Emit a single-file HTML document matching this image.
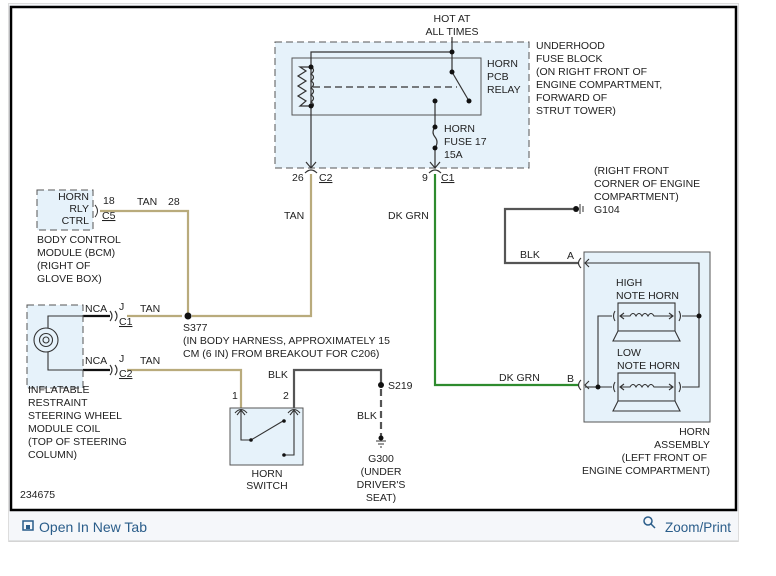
<!DOCTYPE html>
<html><head><meta charset="utf-8"><style>
body{margin:0;background:#fff;width:776px;height:576px;overflow:hidden;font-family:"Liberation Sans",Arial,sans-serif}
svg{position:absolute;left:0;top:0}
text{font-family:"Liberation Sans",Arial,sans-serif;font-size:10.5px;fill:#222}
.u{text-decoration:underline}
.f{font-family:"Liberation Sans Narrow","Liberation Sans",Arial,sans-serif;font-size:14px;fill:#2a5d8a}
</style></head><body>
<svg width="776" height="576" viewBox="0 0 776 576">
<rect x="8.5" y="3.5" width="730" height="538" fill="#f5f7fa" stroke="#ddd"/>
<rect x="11" y="7" width="725" height="503" fill="#fff" stroke="#000" stroke-width="2.5"/>
<line x1="9" y1="541" x2="738" y2="541" stroke="#ccc"/>
<!-- footer -->
<rect x="23" y="521" width="10" height="9" fill="none" stroke="#2a5d8a" stroke-width="1.5"/>
<rect x="26" y="525" width="4" height="4" fill="#2a5d8a"/>
<text x="39" y="532" class="f" textLength="108" lengthAdjust="spacingAndGlyphs">Open In New Tab</text>
<circle cx="648" cy="521" r="4" fill="none" stroke="#2a5d8a" stroke-width="1.5"/>
<line x1="651" y1="524" x2="655" y2="528" stroke="#2a5d8a" stroke-width="1.5"/>
<text x="731" y="532" text-anchor="end" class="f" textLength="66" lengthAdjust="spacingAndGlyphs">Zoom/Print</text>

<!-- fuse block -->
<rect x="275" y="42" width="254" height="126" fill="#e6f2fa" stroke="#555" stroke-dasharray="7,4"/>
<rect x="292" y="58" width="189" height="57" fill="none" stroke="#555"/>
<g stroke="#333" fill="none" stroke-width="1.2">
<line x1="452" y1="37" x2="452" y2="72"/>
<polyline points="452,52 311,52 311,168"/>
<line x1="452" y1="72" x2="469" y2="101"/>
<polyline points="311,67 300,67 306,71 298,76 306,81 298,86 306,91 298,96 306,101 300,106 311,106"/>
<path d="M311,67 q5,3 0,7 q5,3 0,7 q5,3 0,7 q5,3 0,7 q5,3 0,7 q5,3 0,6"/>
<line x1="313" y1="87" x2="457" y2="87" stroke-dasharray="7,4"/>
<line x1="435" y1="101" x2="435" y2="127"/>
<path d="M435,127 q-4,5 0,10 q4,5 0,11"/>
<line x1="435" y1="148" x2="435" y2="168"/>
<polyline points="306,162 311,168 316,162"/>
<polyline points="430,162 435,168 440,162"/>
<path d="M305,173 q6,-6 12,0"/><path d="M429,173 q6,-6 12,0"/>
</g>
<g fill="#111"><circle cx="452" cy="52" r="2.5"/><circle cx="311" cy="67" r="2.5"/><circle cx="311" cy="106" r="2.5"/><circle cx="452" cy="72" r="2.5"/><circle cx="469" cy="101" r="2.5"/><circle cx="435" cy="101" r="2.5"/><circle cx="435" cy="127" r="2.5"/><circle cx="435" cy="148" r="2.5"/></g>
<text x="452" y="22" text-anchor="middle">HOT AT</text><text x="452" y="35" text-anchor="middle">ALL TIMES</text>
<text x="487" y="67">HORN</text><text x="487" y="80">PCB</text><text x="487" y="93">RELAY</text>
<text x="444" y="132">HORN</text><text x="444" y="145">FUSE 17</text><text x="444" y="158">15A</text>
<text x="536" y="49">UNDERHOOD</text><text x="536" y="62">FUSE BLOCK</text><text x="536" y="75">(ON RIGHT FRONT OF</text><text x="536" y="88">ENGINE COMPARTMENT,</text><text x="536" y="101">FORWARD OF</text><text x="536" y="114">STRUT TOWER)</text>
<text x="292" y="181">26</text><text x="319" y="181" class="u">C2</text>
<text x="422" y="181">9</text><text x="441" y="181" class="u">C1</text>

<!-- wires -->
<g fill="none" stroke-width="2.2">
<polyline points="311,174 311,316 192,316" stroke="#b9ab7c"/>
<polyline points="100,211 188,211 188,316" stroke="#b9ab7c"/>
<line x1="127" y1="316" x2="182" y2="316" stroke="#b9ab7c"/>
<polyline points="127,370 241,370 241,408" stroke="#b9ab7c"/>
<polyline points="435,174 435,385 578,385" stroke="#2e8b2e"/>
<polyline points="294,408 294,370 381,370 381,385" stroke="#555"/>
<line x1="381" y1="389" x2="381" y2="437" stroke="#555" stroke-dasharray="7,4"/>
<polyline points="573,209 505,209 505,263 578,263" stroke="#555"/>
<line x1="83" y1="316" x2="110" y2="316" stroke="#111"/>
<line x1="83" y1="370" x2="110" y2="370" stroke="#111"/>
</g>
<circle cx="188" cy="316" r="3.5" fill="#111"/>
<circle cx="381" cy="385" r="3" fill="#111"/>
<text x="137" y="205">TAN</text><text x="168" y="205">28</text><text x="284" y="219">TAN</text>
<text x="388" y="219">DK GRN</text>
<text x="183" y="331">S377</text><text x="183" y="344">(IN BODY HARNESS, APPROXIMATELY 15</text><text x="183" y="357">CM (6 IN) FROM BREAKOUT FOR C206)</text>

<!-- BCM -->
<rect x="37" y="190" width="56" height="40" fill="#e6f2fa" stroke="#555" stroke-dasharray="7,4"/>
<text x="89" y="200" text-anchor="end">HORN</text><text x="89" y="212" text-anchor="end">RLY</text><text x="89" y="224" text-anchor="end">CTRL</text>
<path d="M95,205 q5,6 0,12" fill="none" stroke="#333"/>
<text x="103" y="204">18</text><text x="102" y="219" class="u">C5</text>
<text x="37" y="243">BODY CONTROL</text><text x="37" y="256">MODULE (BCM)</text><text x="37" y="269">(RIGHT OF</text><text x="37" y="282">GLOVE BOX)</text>

<!-- steering coil -->
<rect x="27" y="305" width="56" height="83" fill="#e6f2fa" stroke="#555" stroke-dasharray="7,4"/>
<g fill="none" stroke="#333" stroke-width="1.1">
<polyline points="83,316 48,316 48,328"/>
<circle cx="46" cy="340" r="3"/><circle cx="46" cy="340" r="6.5"/><circle cx="46" cy="340" r="12"/>
<polyline points="48,352 48,370 83,370"/>
<path d="M110,311 q4,5 0,10"/><path d="M115,311 q4,5 0,10"/>
<path d="M110,365 q4,5 0,10"/><path d="M115,365 q4,5 0,10"/>
</g>
<text x="85" y="312">NCA</text><text x="119" y="310">J</text><text x="119" y="325" class="u">C1</text><text x="140" y="312">TAN</text>
<text x="85" y="364">NCA</text><text x="119" y="362">J</text><text x="119" y="377" class="u">C2</text><text x="140" y="364">TAN</text>
<text x="28" y="393">INFLATABLE</text><text x="28" y="406">RESTRAINT</text><text x="28" y="419">STEERING WHEEL</text><text x="28" y="432">MODULE COIL</text><text x="28" y="445">(TOP OF STEERING</text><text x="28" y="458">COLUMN)</text>

<!-- horn switch -->
<rect x="230" y="408" width="73" height="57" fill="#e6f2fa" stroke="#555"/>
<g fill="none" stroke="#333" stroke-width="1.1">
<path d="M235,413 q6,-7 12,0"/><path d="M288,413 q6,-7 12,0"/>
<polyline points="237,415 241,410 245,415"/><polyline points="290,415 294,410 298,415"/>
<polyline points="241,410 241,440 251,440 283,421"/>
<polyline points="284,455 294,455 294,410"/>
</g>
<circle cx="251" cy="440" r="1.8" fill="#111"/><circle cx="284" cy="421" r="1.8" fill="#111"/><circle cx="284" cy="455" r="1.8" fill="#111"/>
<text x="232" y="399">1</text><text x="283" y="399">2</text><text x="268" y="378">BLK</text>
<text x="267" y="477" text-anchor="middle">HORN</text><text x="267" y="489" text-anchor="middle">SWITCH</text>
<text x="388" y="389">S219</text><text x="357" y="419">BLK</text>
<g stroke="#333"><line x1="376" y1="441" x2="386" y2="441"/><line x1="378" y1="444" x2="384" y2="444"/><line x1="380" y1="447" x2="382" y2="447"/></g>
<circle cx="381" cy="438" r="2.5" fill="#111"/>
<text x="381" y="462" text-anchor="middle">G300</text><text x="381" y="475" text-anchor="middle">(UNDER</text><text x="381" y="488" text-anchor="middle">DRIVER'S</text><text x="381" y="501" text-anchor="middle">SEAT)</text>
<text x="20" y="498">234675</text>

<!-- G104 -->
<circle cx="576" cy="209" r="3" fill="#111"/>
<line x1="580" y1="204" x2="580" y2="214" stroke="#333"/><line x1="583" y1="206" x2="583" y2="212" stroke="#333"/>
<text x="594" y="174">(RIGHT FRONT</text><text x="594" y="187">CORNER OF ENGINE</text><text x="594" y="200">COMPARTMENT)</text><text x="594" y="213">G104</text>
<text x="520" y="258">BLK</text><text x="567" y="259">A</text>
<text x="499" y="381">DK GRN</text><text x="567" y="382">B</text>

<!-- horn assembly -->
<rect x="584" y="252" width="126" height="170" fill="#e6f2fa" stroke="#555"/>
<g fill="none" stroke="#333" stroke-width="1.1">
<path d="M581,258 q-5,5 0,10"/><path d="M581,380 q-5,5 0,10"/>
<polyline points="589,259 585,263 589,267"/><polyline points="589,381 585,385 589,389"/>
<polyline points="585,263 699,263 699,387 682,387"/>
<line x1="682" y1="316" x2="699" y2="316"/>
<polyline points="612,316 598,316 598,387 612,387"/><line x1="585" y1="387" x2="598" y2="387"/>
<rect x="618" y="303" width="57" height="28" fill="#e6f2fa"/><polygon points="618,331 675,331 680,341 613,341" fill="#e6f2fa"/>
<rect x="618" y="373" width="57" height="28" fill="#e6f2fa"/><polygon points="618,401 675,401 680,411 613,411" fill="#e6f2fa"/>
<path d="M615,311 q-3,5 0,10"/><path d="M679,311 q3,5 0,10"/>
<path d="M615,382 q-3,5 0,10"/><path d="M679,382 q3,5 0,10"/>
<polyline points="624,313 620,316 624,319"/><polyline points="669,313 673,316 669,319"/>
<polyline points="624,384 620,387 624,390"/><polyline points="669,384 673,387 669,390"/>
<path d="M620,316 h10 q3,-5 6,0 q3,-5 6,0 q3,-5 6,0 q3,-5 6,0 h19"/>
<path d="M620,387 h10 q3,-5 6,0 q3,-5 6,0 q3,-5 6,0 q3,-5 6,0 h19"/>
</g>
<circle cx="699" cy="316" r="2.5" fill="#111"/><circle cx="598" cy="387" r="2.5" fill="#111"/>
<text x="616" y="286">HIGH</text><text x="616" y="299">NOTE HORN</text>
<text x="617" y="356">LOW</text><text x="617" y="369">NOTE HORN</text>
<text x="710" y="435" text-anchor="end">HORN</text><text x="710" y="448" text-anchor="end">ASSEMBLY</text><text x="707" y="461" text-anchor="end">(LEFT FRONT OF</text><text x="710" y="474" text-anchor="end">ENGINE COMPARTMENT)</text>
</svg>
</body></html>
